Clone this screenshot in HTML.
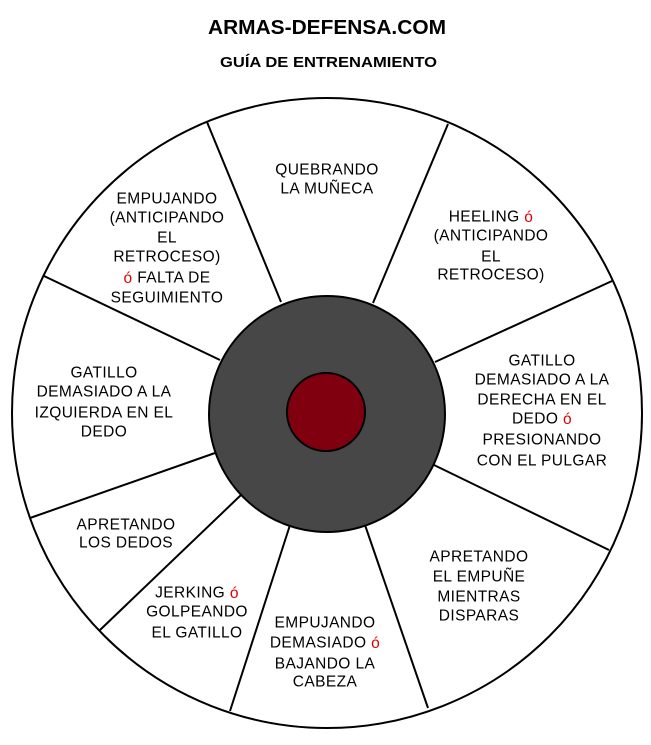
<!DOCTYPE html>
<html><head><meta charset="utf-8"><style>
html,body{margin:0;padding:0;background:#fff;}
svg{display:block;font-family:"Liberation Sans",Arial,sans-serif;}
.t{font-size:15.5px;letter-spacing:0.4px;fill:#000;text-anchor:middle;dominant-baseline:central;}
.r{fill:#e00000;}
</style></head><body>
<svg width="651" height="745" viewBox="0 0 651 745">
<text x="208" y="28" dominant-baseline="central" font-weight="bold" font-size="20" textLength="238" lengthAdjust="spacingAndGlyphs">ARMAS-DEFENSA.COM</text>
<text x="220" y="63" dominant-baseline="central" font-weight="bold" font-size="14.5" textLength="217" lengthAdjust="spacingAndGlyphs">GUÍA DE ENTRENAMIENTO</text>
<circle cx="327" cy="413" r="315" fill="#fff" stroke="#000" stroke-width="2"/>
<g stroke="#000" stroke-width="2">
<line x1="207" y1="122" x2="281" y2="302"/>
<line x1="448" y1="124" x2="373" y2="303"/>
<line x1="612" y1="281" x2="435" y2="362"/>
<line x1="609" y1="550" x2="434" y2="465"/>
<line x1="428" y1="708" x2="365" y2="525"/>
<line x1="230" y1="711" x2="290" y2="525"/>
<line x1="100" y1="630" x2="241" y2="495"/>
<line x1="30" y1="518" x2="215" y2="453"/>
<line x1="44" y1="276" x2="220" y2="360"/>
</g>
<circle cx="327" cy="414" r="118" fill="#474747" stroke="#000" stroke-width="2"/>
<circle cx="326" cy="412" r="39" fill="#800010" stroke="#000" stroke-width="2"/>
<g>
<text class="t" x="327" y="170">QUEBRANDO</text>
<text class="t" x="327" y="189">LA MUÑECA</text>
<text class="t" x="167" y="199">EMPUJANDO</text>
<text class="t" x="167" y="218">(ANTICIPANDO</text>
<text class="t" x="167" y="238">EL</text>
<text class="t" x="167" y="257">RETROCESO)</text>
<text class="t" x="167" y="278"><tspan class="r">ó</tspan> FALTA DE</text>
<text class="t" x="167" y="298">SEGUIMIENTO</text>
<text class="t" x="491" y="217">HEELING <tspan class="r">ó</tspan></text>
<text class="t" x="491" y="236">(ANTICIPANDO</text>
<text class="t" x="491" y="257">EL</text>
<text class="t" x="491" y="275">RETROCESO)</text>
<text class="t" x="104" y="373">GATILLO</text>
<text class="t" x="104" y="392">DEMASIADO A LA</text>
<text class="t" x="104" y="413">IZQUIERDA EN EL</text>
<text class="t" x="104" y="432">DEDO</text>
<text class="t" x="542" y="361">GATILLO</text>
<text class="t" x="542" y="380">DEMASIADO A LA</text>
<text class="t" x="542" y="400">DERECHA EN EL</text>
<text class="t" x="542" y="419">DEDO <tspan class="r">ó</tspan></text>
<text class="t" x="542" y="440">PRESIONANDO</text>
<text class="t" x="542" y="461">CON EL PULGAR</text>
<text class="t" x="126" y="525">APRETANDO</text>
<text class="t" x="126" y="543">LOS DEDOS</text>
<text class="t" x="197" y="593">JERKING <tspan class="r">ó</tspan></text>
<text class="t" x="197" y="612">GOLPEANDO</text>
<text class="t" x="197" y="633">EL GATILLO</text>
<text class="t" x="325" y="623">EMPUJANDO</text>
<text class="t" x="325" y="643">DEMASIADO <tspan class="r">ó</tspan></text>
<text class="t" x="325" y="664">BAJANDO LA</text>
<text class="t" x="325" y="682">CABEZA</text>
<text class="t" x="479" y="557">APRETANDO</text>
<text class="t" x="479" y="577">EL EMPUÑE</text>
<text class="t" x="479" y="597">MIENTRAS</text>
<text class="t" x="479" y="616">DISPARAS</text>
</g>
</svg>
</body></html>
